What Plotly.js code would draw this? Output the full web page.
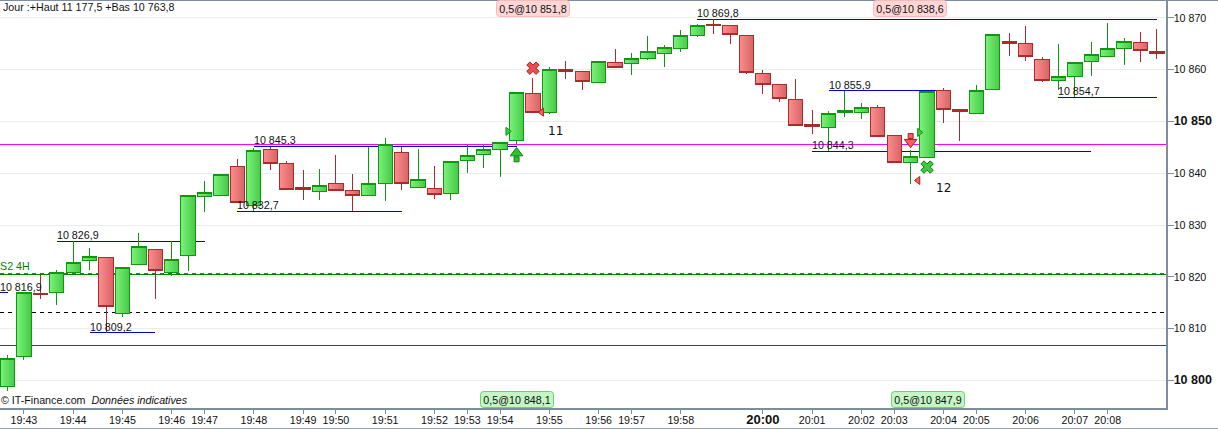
<!DOCTYPE html>
<html><head><meta charset="utf-8">
<script src="https://cdn.plot.ly/plotly-3.0.1.min.js"></script>
<style>html,body{margin:0;padding:0;background:#fff;overflow:hidden}#c{width:1218px;height:430px}</style>
</head><body><div id="c"></div>
<script>
const openP=[10798.8,10804.6,10816.7,10817.0,10820.9,10823.2,10823.8,10812.9,10822.4,10825.3,10820.9,10824.2,10835.5,10835.7,10841.3,10833.7,10844.6,10841.9,10837.3,10836.5,10838.1,10836.7,10835.7,10838.1,10844.1,10837.3,10837.1,10836.1,10842.4,10843.7,10844.6,10846.4,10855.5,10851.7,10860.0,10859.7,10857.6,10861.4,10861.2,10862.1,10863.2,10864.1,10866.7,10868.7,10868.6,10866.7,10859.3,10857.2,10854.3,10849.5,10848.9,10851.8,10851.8,10852.7,10847.3,10842.1,10843.1,10856.0,10852.3,10851.6,10856.2,10865.5,10865.1,10862.0,10858.0,10858.7,10861.6,10862.6,10864.1,10865.3,10863.6];
const highP=[10804.9,10816.9,10820.5,10821.4,10826.9,10825.5,10823.8,10821.8,10828.5,10825.3,10826.9,10835.8,10838.5,10839.8,10842.8,10844.9,10845.1,10842.3,10840.6,10840.8,10843.5,10839.9,10845.1,10846.8,10845.1,10844.7,10841.4,10842.3,10845.5,10845.5,10846.0,10855.6,10858.4,10860.5,10861.7,10859.7,10861.6,10864.0,10863.2,10866.5,10864.7,10867.6,10868.8,10869.8,10868.6,10866.7,10860.0,10857.2,10858.2,10852.2,10852.0,10855.9,10853.5,10853.1,10847.3,10844.5,10855.8,10856.4,10852.3,10857.1,10866.9,10867.1,10868.5,10862.4,10865.0,10861.4,10865.4,10869.0,10866.1,10867.3,10867.9];
const lowP=[10798.0,10804.0,10815.7,10814.6,10820.9,10821.4,10809.2,10812.3,10822.4,10815.8,10820.2,10821.2,10832.6,10835.7,10834.4,10832.7,10840.6,10836.9,10834.8,10834.8,10836.6,10832.7,10835.7,10834.6,10836.8,10837.3,10835.0,10834.9,10840.1,10841.1,10839.3,10845.7,10851.7,10851.5,10858.3,10856.1,10857.6,10860.4,10859.0,10861.9,10860.6,10863.5,10866.4,10867.0,10865.0,10859.1,10855.4,10853.8,10849.3,10847.6,10844.3,10850.9,10850.5,10847.1,10842.1,10838.0,10843.1,10849.8,10846.3,10851.4,10856.0,10862.7,10861.6,10857.7,10856.0,10854.7,10858.7,10862.6,10861.0,10861.4,10862.1];
const closeP=[10804.3,10816.9,10816.5,10820.9,10822.8,10824.0,10814.3,10821.8,10825.9,10821.3,10823.4,10835.8,10836.3,10839.8,10834.4,10844.4,10841.9,10836.9,10836.9,10837.7,10836.6,10835.7,10838.1,10845.5,10838.0,10838.8,10835.9,10842.3,10843.5,10844.6,10846.0,10855.6,10851.7,10860.1,10859.7,10857.8,10861.6,10860.4,10862.1,10863.6,10864.3,10866.7,10868.6,10868.5,10866.9,10859.5,10857.1,10854.4,10849.3,10849.0,10851.6,10852.2,10852.7,10847.1,10842.1,10843.3,10855.8,10852.4,10852.0,10856.0,10866.9,10865.1,10862.6,10858.0,10858.7,10861.4,10863.0,10864.1,10865.5,10863.8,10863.2];
const candleIdx=openP.map((_,i)=>i);

const timeTickIdx=[1,4,7,10,12,15,18,20,23,26,28,30,33,36,38,41,46,49,52,54,57,59,62,65,67];
const timeTickText=['19:43','19:44','19:45','19:46','19:47','19:48','19:49','19:50','19:51','19:52','19:53','19:54','19:55','19:56','19:57','19:58','<b style="font-size:13px">20:00</b>','20:01','20:02','20:03','20:04','20:05','20:06','20:07','20:08'];
const priceTicks=[10800,10810,10820,10830,10840,10850,10860,10870];
const priceTickText=['<b style="font-size:12.5px">10 800</b>','10 810','10 820','10 830','10 840','<b style="font-size:12.5px">10 850</b>','10 860','10 870'];
const majorGrid=[10800,10850];

const levelValue=[10816.9,10826.9,10809.2,10832.7,10845.25,10869.8,10855.9,10844.3,10854.7];
const levelStart=[-1,3,5,14,15,42,50,49,64];
const levelEnd=[0,12,9,24,31,70,57,66,70];
const levelLabel=['10 816,9','10 826,9','10 809,2','10 832,7','10 845,3','10 869,8','10 855,9','10 844,3','10 854,7'];

const fullLineValue=[10845.6,10820.7,10820.5,10813.1,10806.7];
const fullLineColor=['#ff00ff','#e000e0','#008000','#000000','#e00000'];
const fullLineDash=['solid','4px,4px','solid','4px,4px','solid'];

const buyX=[30.46,55.53], buyY=[10848.1,10847.9];
const sellX=[32.53,55.45], sellY=[10851.8,10838.6];
const exitX=[32,56], exitY=[10860.3,10841.2];
const tradeTags=['0,5@10 851,8','0,5@10 838,6','0,5@10 848,1','0,5@10 847,9'];
const tradeTagIdx=[32.03,54.96,31,56.03];
const tradeNo=['11','12'], tradeNoX=[33.36,57.03], tradeNoY=[10848.2,10837.2];

const axisCol='#7d8d9b';
const mk=(x,y,sym,size,fill,line)=>({type:'scatter',mode:'markers',x,y,hoverinfo:'skip',
  marker:{symbol:sym,size,color:fill,line:{color:line,width:1}}});

const traces=[
 {type:'candlestick',x:candleIdx,open:openP,high:highP,low:lowP,close:closeP,whiskerwidth:0,hoverinfo:'skip',
  increasing:{line:{color:'#109610',width:1},fillcolor:'#55d855'},
  decreasing:{line:{color:'#a82c2c',width:1},fillcolor:'#ec7474'}},
 mk(buyX,buyY,'triangle-right',7,'#40c840','#109610'),
 mk(sellX,sellY,'triangle-left',7,'#f06060','#b02020'),
 mk([31],[10842.7],'square',5,'#30c030','#0a800a'),
 mk([31],[10843.9],'triangle-up',11,'#30c030','#0a800a'),
 mk([55],[10847.2],'square',5,'#f06060','#b02020'),
 mk([55],[10846.0],'triangle-down',11,'#f06060','#b02020'),
 mk([exitX[0]],[exitY[0]],'x',11,'#e85050','#b02020'),
 mk([exitX[1]],[exitY[1]],'x',11,'#40c840','#0a800a')
];

const shapes=[];
majorGrid.forEach(v=>shapes.push({type:'line',layer:'below',xref:'paper',yref:'y',x0:0,x1:1,y0:v,y1:v,line:{color:'#d8d8d8',width:1}}));
fullLineValue.forEach((v,i)=>shapes.push({type:'line',layer:'below',xref:'paper',yref:'y',x0:0,x1:1,y0:v,y1:v,line:{color:fullLineColor[i],width:1,dash:fullLineDash[i]}}));
levelValue.forEach((v,i)=>shapes.push({type:'line',layer:'below',xref:'x',yref:'y',x0:levelStart[i],x1:levelEnd[i],y0:v,y1:v,line:{color:'#0000d0',width:1}}));
shapes.push({type:'line',xref:'paper',yref:'paper',x0:0,x1:1.0446,y0:1.0012,y1:1.0012,line:{color:axisCol,width:1.5}});
shapes.push({type:'line',xref:'paper',yref:'paper',x0:0,x1:1.0446,y0:-0.0505,y1:-0.0505,line:{color:'#8fa3b5',width:1.5}});

const ann=[];
const F=10.7;
levelLabel.forEach((t,i)=>ann.push({xref:'x',yref:'y',x:Math.max(levelStart[i],-0.45),y:levelValue[i],text:t,showarrow:false,xanchor:'left',yanchor:'bottom',borderpad:0,xshift:-1,yshift:-1,font:{size:F,color:'#111'}}));
ann.push({xref:'paper',yref:'paper',x:0.0017,y:1,yshift:1,text:'Jour :+Haut 11 177,5 +Bas 10 763,8',showarrow:false,xanchor:'left',yanchor:'top',borderpad:0,font:{size:F,color:'#111'}});
ann.push({xref:'paper',yref:'y',x:-0.001,y:10820.7,text:'S2 4H',showarrow:false,xanchor:'left',yanchor:'bottom',borderpad:0,font:{size:F,color:'#008000'}});
ann.push({xref:'paper',yref:'paper',x:0,y:0,yshift:1,text:'© IT-Finance.com  <i>Données indicatives</i>',showarrow:false,xanchor:'left',yanchor:'bottom',borderpad:0,font:{size:F,color:'#111'}});
tradeTags.forEach((t,i)=>{const top=i<2;ann.push({xref:'x',yref:'paper',x:tradeTagIdx[i],y:top?1:0,yshift:top?1:0,text:t,showarrow:false,xanchor:'center',yanchor:top?'top':'bottom',width:72,height:15,borderpad:0,borderwidth:1,
  bgcolor:top?'#ffd6d6':'#c4f5c4',bordercolor:top?'#f5bcbc':'#70d070',font:{size:F,color:'#111'}})});
tradeNo.forEach((t,i)=>ann.push({xref:'x',yref:'y',x:tradeNoX[i],y:tradeNoY[i],text:t,showarrow:false,font:{size:12,color:'#111',family:'"DejaVu Sans"'}}));

const layout={width:1218,height:430,margin:{l:0,r:52,t:1,b:22,pad:0},paper_bgcolor:'#fff',plot_bgcolor:'#fff',showlegend:false,
 font:{family:'"Liberation Sans",Arial,sans-serif',size:F,color:'#111'},boxgap:0.13,boxgroupgap:0,hovermode:false,
 xaxis:{type:'linear',range:[-0.457,70.55],rangeslider:{visible:false},tickmode:'array',tickvals:timeTickIdx,ticktext:timeTickText,showgrid:false,zeroline:false,showline:true,linecolor:axisCol,linewidth:1.5,ticks:'outside',ticklen:4,tickcolor:axisCol,tickfont:{size:F},ticklabelstandoff:-2},
 yaxis:{range:[10794.65,10873.28],side:'right',tickmode:'array',tickvals:priceTicks,ticktext:priceTickText,showgrid:true,gridcolor:'#ebebeb',gridwidth:1,zeroline:false,showline:true,linecolor:axisCol,linewidth:1.5,ticks:'outside',ticklen:6,tickcolor:axisCol,tickfont:{size:F},ticklabelstandoff:-2},
 shapes,annotations:ann};

const gd=document.getElementById('c');
Plotly.newPlot(gd,traces,layout,{staticPlot:true,displayModeBar:false}).then(()=>{
 const NS='http://www.w3.org/2000/svg',defs=gd.querySelector('.main-svg defs')||gd.querySelector('.main-svg').appendChild(document.createElementNS(NS,'defs'));
 const grad=(id,a,b)=>{const g=document.createElementNS(NS,'linearGradient');g.id=id;
  [[0,a],[1,b]].forEach(([o,c])=>{const s=document.createElementNS(NS,'stop');s.setAttribute('offset',o);s.setAttribute('stop-color',c);g.appendChild(s)});defs.appendChild(g)};
 grad('gUp','#7af27a','#46ca46');grad('gDn','#fc8e8e','#d86464');
 gd.querySelectorAll('.boxlayer path.box').forEach(p=>{
  const up=(p.style.stroke||'').indexOf('16, 150')>=0||(p.style.fill||'').indexOf('85, 216')>=0;
  p.style.fill=up?'url(#gUp)':'url(#gDn)';p.style.shapeRendering='crispEdges';});
 gd.querySelectorAll('.shapelayer path').forEach(p=>{p.style.shapeRendering='crispEdges';});
 gd.querySelectorAll('.annotation rect.bg').forEach(r=>{r.setAttribute('rx',3);r.setAttribute('ry',3);});
});
</script></body></html>
